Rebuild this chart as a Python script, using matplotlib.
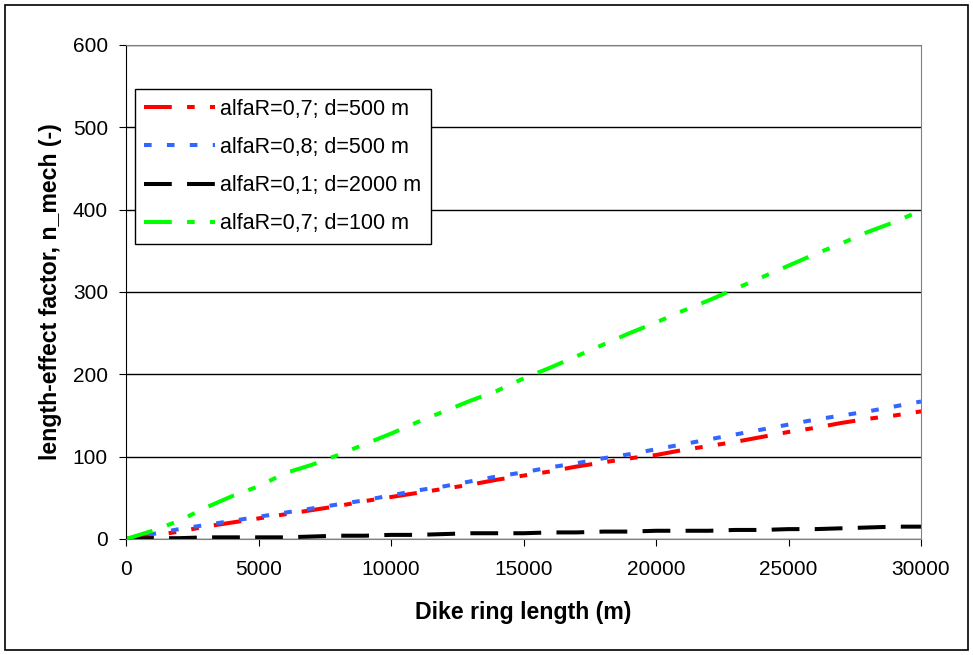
import matplotlib.pyplot as plt
from matplotlib.patches import Rectangle

plt.rcParams['font.family'] = ['Liberation Sans', 'DejaVu Sans']
plt.rcParams['lines.scale_dashes'] = False

# dike ring length (m)
length = [0, 1000, 2000, 3000, 4000, 5000, 6000, 7000, 8000, 9000, 10000,
          11000, 12000, 13000, 14000, 15000, 16000, 17000, 18000, 19000, 20000,
          21000, 22000, 23000, 24000, 25000, 26000, 27000, 28000, 29000, 30000]

n_07_500 = [0, 4, 9, 15, 20, 25, 30, 35, 40, 46, 51,
            56, 61, 66, 72, 77, 82, 88, 93, 98, 102,
            108, 113, 118, 124, 130, 135, 141, 146, 150, 155]
n_08_500 = [0, 6, 12, 17, 22, 27, 32, 37, 42, 47, 53,
            59, 64, 70, 76, 81, 87, 92, 98, 103, 109,
            115, 121, 127, 133, 139, 145, 150, 155, 161, 167]
n_01_2000 = [0, 1, 1, 2, 2, 2, 2, 3, 4, 4, 5,
             5, 6, 7, 7, 7, 8, 8, 9, 9, 10,
             10, 10, 11, 11, 12, 12, 13, 14, 15, 15]
n_07_100 = [0, 10, 22, 38, 52, 64, 80, 90, 102, 115, 128,
            142, 155, 168, 180, 195, 208, 222, 236, 250, 263,
            277, 290, 304, 318, 332, 346, 359, 373, 385, 399]

fig = plt.figure(figsize=(9.73, 6.55), dpi=100)
ax = fig.add_axes([0.1295, 0.1771, 0.8171, 0.7542])

# rand om de hele figuur
fig.patches.append(Rectangle((0.005, 0.007), 0.99, 0.986, transform=fig.transFigure,
                             fill=False, edgecolor='black', linewidth=1.2))

lw = 2.9
ax.plot(length, n_07_500, color='#ff0000', lw=lw, dashes=(20, 11, 5.5, 11, 5.5, 11),
        label='alfaR=0,7; d=500 m')
ax.plot(length, n_08_500, color='#3366ff', lw=lw, dashes=(5.5, 11),
        label='alfaR=0,8; d=500 m')
ax.plot(length, n_01_2000, color='black', lw=lw, dashes=(20, 11),
        label='alfaR=0,1; d=2000 m')
ax.plot(length, n_07_100, color='#00ff00', lw=lw, dashes=(20, 11, 5.5, 11, 5.5, 11),
        label='alfaR=0,7; d=100 m')

ax.set_xlim(0, 30000)
ax.set_ylim(0, 600)
ax.set_xticks(range(0, 30001, 5000))
ax.set_yticks(range(0, 601, 100))
ax.yaxis.grid(True, color='black', linewidth=1)
ax.set_axisbelow(True)
ax.tick_params(labelsize=15, length=5, direction='out')
ax.tick_params(axis='x', pad=10)
ax.tick_params(axis='y', pad=8)
for side in ['top', 'right', 'bottom']:
    ax.spines[side].set_color('#808080')

ax.set_xlabel('Dike ring length (m)', fontsize=16.7, fontweight='bold', labelpad=16)
ax.set_ylabel('length-effect factor, n_mech (-)', fontsize=16.7, fontweight='bold', labelpad=8)

leg = ax.legend(loc='upper left', bbox_to_anchor=(0.011, 0.911), borderaxespad=0,
                fontsize=15.5, handlelength=3.3, handletextpad=0.2, labelspacing=0.8,
                fancybox=False, framealpha=1, borderpad=0.45)
leg.get_frame().set_edgecolor('black')
leg.get_frame().set_linewidth(1)

plt.savefig('out.png', dpi=100)
